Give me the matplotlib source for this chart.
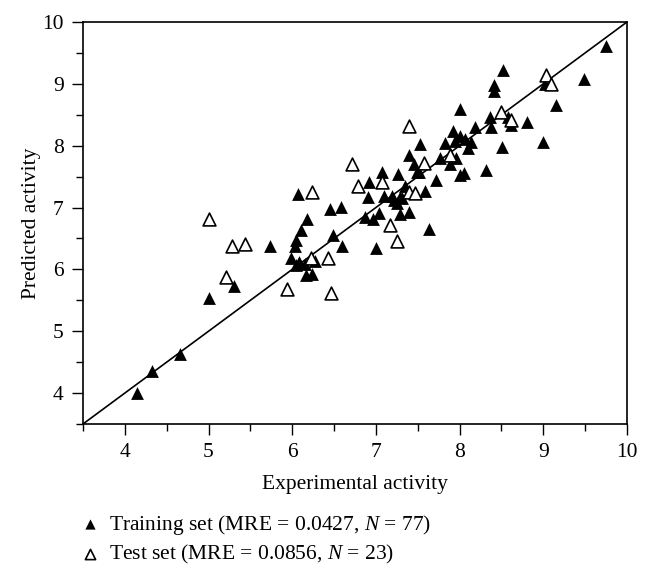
import matplotlib
matplotlib.use("Agg")
from matplotlib import pyplot as plt

plt.rcParams['font.family'] = ['Liberation Serif', 'DejaVu Serif']
plt.rcParams['mathtext.fontset'] = 'custom'
plt.rcParams['mathtext.rm'] = 'Liberation Serif'
plt.rcParams['mathtext.it'] = 'Liberation Serif:italic'

# training set (filled triangles)
train_exp = [4.15, 4.33, 4.66, 5.00, 5.31, 5.73, 5.99, 6.03, 6.05, 6.15,
             6.16, 6.24, 6.27, 6.08, 6.07, 6.18, 6.11, 6.05, 6.45, 6.58,
             6.49, 6.59, 6.92, 6.90, 6.87, 6.97, 7.04, 7.00, 7.07, 7.26,
             7.10, 7.19, 7.29, 7.35, 7.25, 7.29, 7.39, 7.59, 7.64, 7.72,
             7.39, 7.45, 7.51, 7.53, 7.77, 7.82, 7.89, 7.96, 7.92, 8.00,
             8.00, 8.14, 8.10, 8.00, 8.05, 8.31, 8.18, 8.38, 8.36, 8.58,
             8.62, 8.51, 8.81, 8.41, 8.41, 8.52, 9.02, 9.00, 9.15, 9.49,
             9.75, 7.22, 7.31, 7.49, 8.06, 6.08, 7.95]
train_pred = [4.00, 4.36, 4.63, 5.54, 5.73, 6.38, 6.18, 6.37, 6.07, 6.08,
              5.91, 5.92, 6.13, 6.12, 7.22, 6.81, 6.64, 6.48, 6.98, 7.01,
              6.56, 6.37, 7.41, 7.17, 6.84, 6.81, 6.91, 6.34, 7.57, 7.54,
              7.18, 7.19, 7.17, 7.34, 7.07, 6.90, 6.92, 7.27, 6.66, 7.44,
              7.85, 7.71, 7.57, 8.03, 7.80, 8.04, 7.71, 7.80, 8.23, 8.16,
              8.60, 8.06, 7.96, 7.53, 7.56, 7.61, 8.31, 8.31, 8.47, 8.47,
              8.33, 7.98, 8.39, 8.89, 8.98, 9.22, 8.99, 8.06, 8.66, 9.08,
              9.61, 7.12, 7.15, 7.58, 8.10, 6.10, 8.08]

# test set (open triangles)
test_exp = [5.01, 5.21, 5.28, 5.43, 5.94, 6.22, 6.43, 6.46, 6.24, 6.72,
            6.79, 7.07, 7.17, 7.25, 7.39, 7.47, 7.39, 7.57, 7.89, 8.49,
            8.62, 9.03, 9.09]
test_pred = [6.81, 5.88, 6.38, 6.41, 5.69, 6.18, 6.18, 5.61, 7.25, 7.70,
             7.35, 7.41, 6.71, 6.46, 7.25, 7.24, 8.32, 7.72, 7.85, 8.55,
             8.41, 9.15, 8.99]

fig = plt.figure(figsize=(6.5, 5.77), dpi=100)
ax = fig.add_axes([0.1277, 0.2652, 0.8369, 0.6967])

ax.plot([3.5, 10], [3.5, 10], color='black', linewidth=1.2, zorder=1)
ax.scatter(train_exp, train_pred, marker='^', s=85, color='black',
           linewidths=0, zorder=2,
           label='Training set (MRE = 0.0427, $N$ = 77)')
ax.scatter(test_exp, test_pred, marker='^', s=85, facecolor='white',
           edgecolor='black', linewidths=1.2, zorder=3,
           label='Test set (MRE = 0.0856, $N$ = 23)')

ax.set_xlim(3.5, 10)
ax.set_ylim(3.5, 10)
ax.set_xticks(range(4, 11))
ax.set_yticks(range(4, 11))
ax.set_xticks([3.5 + 0.5 * i for i in range(14)], minor=True)
ax.set_yticks([3.5 + 0.5 * i for i in range(14)], minor=True)
ax.tick_params(which='major', direction='out', length=8, width=1,
               labelsize=15.5, pad=6, top=False, right=False)
ax.tick_params(which='minor', direction='out', length=5, width=1,
               top=False, right=False)
for sp in ax.spines.values():
    sp.set_linewidth(1.2)

ax.set_xlabel('Experimental activity', fontsize=15.5, labelpad=9)
ax.set_ylabel('Predicted activity', fontsize=15.5, labelpad=1)

fig.legend(loc='upper left', bbox_to_anchor=(0.128, 0.111), frameon=False,
           fontsize=15.5, handlelength=0.6, handletextpad=0.6,
           labelspacing=0.3, markerscale=0.8,
           borderaxespad=0, borderpad=0)

fig.savefig('out.png', dpi=100)
